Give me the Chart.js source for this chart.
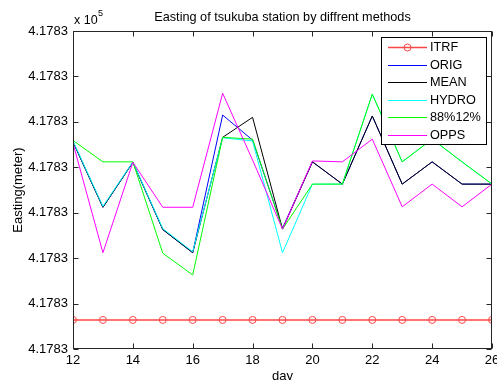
<!DOCTYPE html>
<html>
<head>
<meta charset="utf-8">
<script src="https://cdn.jsdelivr.net/npm/chart.js@4/dist/chart.umd.min.js"></script>
<style>
  html, body { margin: 0; padding: 0; background: #fff; }
  #wrap { width: 497px; height: 380px; }
</style>
</head>
<body>
<div id="wrap"><canvas id="chart" width="497" height="380"></canvas></div>
<script>
// Data (y in tick steps above the lowest tick)
const days = [12, 13, 14, 15, 16, 17, 18, 19, 20, 21, 22, 23, 24, 25, 26];
const yTickLabels = ['4.1783', '4.1783', '4.1783', '4.1783', '4.1783', '4.1783', '4.1783', '4.1783'];

const itrf  = [0.64, 0.64, 0.64, 0.64, 0.64, 0.64, 0.64, 0.64, 0.64, 0.64, 0.64, 0.64, 0.64, 0.64, 0.64];
const orig  = [4.56, 3.12, 4.11, 2.63, 2.12, 5.15, 4.60, 2.66, 4.12, 3.63, 5.13, 3.63, 4.12, 3.63, 3.63];
const mean  = [4.56, 3.12, 4.11, 2.63, 2.12, 4.66, 5.10, 2.64, 4.12, 3.63, 5.13, 3.63, 4.12, 3.63, 3.63];
const hydro = [4.58, 3.14, 4.12, 2.65, 2.14, 4.65, 4.58, 2.12, 3.63, 3.63, 5.61, 4.12, 4.62, 4.12, 3.63];
const mix   = [4.59, 4.12, 4.12, 2.11, 1.63, 4.66, 4.62, 2.64, 3.63, 3.63, 5.61, 4.12, 4.62, 4.12, 3.63];
const opps  = [4.53, 2.12, 4.11, 3.12, 3.12, 5.63, 4.16, 2.64, 4.14, 4.12, 4.62, 3.13, 3.63, 3.13, 3.63];

const seriesNames = ['ITRF', 'ORIG', 'MEAN', 'HYDRO', '88%12%', 'OPPS'];
const seriesData = [itrf, orig, mean, hydro, mix, opps];
const seriesColors = ['#ff4545', '#0000ff', '#000000', '#00ffff', '#00ff00', '#ff00ff'];

const FONT = '"Liberation Sans", Arial, Helvetica, sans-serif';
const AXIS_COLOR = '#262626';

const datasets = seriesNames.map((name, i) => ({
  label: name,
  data: days.map((d, j) => ({ x: d, y: seriesData[i][j] })),
  borderColor: seriesColors[i],
  backgroundColor: 'rgba(0,0,0,0)',
  borderWidth: i === 0 ? 1.5 : 1,
  pointRadius: i === 0 ? 3.5 : 0,
  pointBorderWidth: 1,
  pointBorderColor: seriesColors[i],
  pointBackgroundColor: 'rgba(0,0,0,0)',
  tension: 0,
  fill: false,
  order: seriesNames.length - i   // later series drawn on top, like matlab
}));

// matlab-like box, inward ticks, exponent note and legend
const matlabAxes = {
  id: 'matlabAxes',
  afterDraw(chart) {
    const ctx = chart.ctx;
    const a = chart.chartArea;
    const xs = chart.scales.x, ys = chart.scales.y;
    const L = Math.round(a.left) + 0.5, R = Math.round(a.right) - 0.5;
    const T = Math.round(a.top) + 0.5, B = Math.round(a.bottom) - 0.5;
    ctx.save();
    ctx.strokeStyle = AXIS_COLOR;
    ctx.lineWidth = 1;
    ctx.strokeRect(L, T, R - L, B - T);
    ctx.beginPath();
    xs.ticks.forEach(t => {
      const px = Math.round(xs.getPixelForValue(t.value)) + 0.5;
      ctx.moveTo(px, B); ctx.lineTo(px, B - 5);
      ctx.moveTo(px, T); ctx.lineTo(px, T + 5);
    });
    ys.ticks.forEach(t => {
      const py = Math.round(ys.getPixelForValue(t.value)) + 0.5;
      ctx.moveTo(L, py); ctx.lineTo(L + 5, py);
      ctx.moveTo(R, py); ctx.lineTo(R - 5, py);
    });
    ctx.stroke();

    // exponent label
    ctx.fillStyle = '#000';
    ctx.textBaseline = 'alphabetic';
    ctx.textAlign = 'left';
    ctx.font = '12.5px ' + FONT;
    ctx.fillText('x 10', a.left + 1, 24);
    ctx.font = '9px ' + FONT;
    ctx.fillText('5', a.left + 25, 16);

    // legend
    const bx = 381, by = 37, bw = 106, bh = 108;
    ctx.fillStyle = '#fff';
    ctx.fillRect(bx, by, bw, bh);
    ctx.strokeStyle = '#000';
    ctx.lineWidth = 1;
    ctx.strokeRect(bx + 0.5, by + 0.5, bw - 1, bh - 1);
    ctx.font = '12.7px ' + FONT;
    ctx.textBaseline = 'middle';
    chart.data.datasets.forEach((ds, i) => {
      const y = Math.round(by + 10 + i * 17.6) + 0.5;
      ctx.strokeStyle = ds.borderColor;
      ctx.lineWidth = ds.borderWidth;
      ctx.beginPath();
      ctx.moveTo(388, y); ctx.lineTo(427, y);
      ctx.stroke();
      if (ds.pointRadius > 0) {
        ctx.beginPath();
        ctx.lineWidth = 1;
        ctx.arc(407.5, y, ds.pointRadius, 0, Math.PI * 2);
        ctx.stroke();
      }
      ctx.fillStyle = '#000';
      ctx.fillText(ds.label, 430, y);
    });
    ctx.restore();
  }
};

new Chart(document.getElementById('chart'), {
  type: 'line',
  data: { datasets: datasets },
  options: {
    responsive: false,
    animation: false,
    devicePixelRatio: 1,
    layout: { padding: { top: 0, right: 5, bottom: 0, left: 0 } },
    plugins: {
      legend: { display: false },
      tooltip: { enabled: false },
      title: {
        display: true,
        text: 'Easting of tsukuba station by diffrent methods',
        fullSize: false,
        color: '#000',
        font: { family: FONT, size: 12.7, weight: 'normal', lineHeight: 1.2 },
        padding: { top: 9.5, bottom: 6.3 }
      }
    },
    scales: {
      x: {
        type: 'linear',
        min: 12,
        max: 26,
        grid: { display: false, drawTicks: false },
        border: { display: false },
        ticks: { stepSize: 2, color: '#000', padding: 4, font: { family: FONT, size: 13 } },
        title: { display: true, text: 'day', color: '#000', font: { family: FONT, size: 13 }, padding: { top: 0, bottom: -4 } },
        afterFit(scale) { scale.height = 31; scale.paddingLeft = 0; scale.paddingRight = 0; }
      },
      y: {
        type: 'linear',
        min: 0,
        max: 7,
        grid: { display: false, drawTicks: false },
        border: { display: false },
        ticks: {
          stepSize: 1,
          color: '#000',
          padding: 5,
          font: { family: FONT, size: 13 },
          callback: v => yTickLabels[v]
        },
        title: { display: true, text: 'Easting(meter)', color: '#000', font: { family: FONT, size: 13 }, padding: { top: 10.5, bottom: 0 } },
        afterFit(scale) { scale.width = 73; scale.paddingTop = 0; scale.paddingBottom = 0; }
      }
    }
  },
  plugins: [matlabAxes]
});
</script>
</body>
</html>
